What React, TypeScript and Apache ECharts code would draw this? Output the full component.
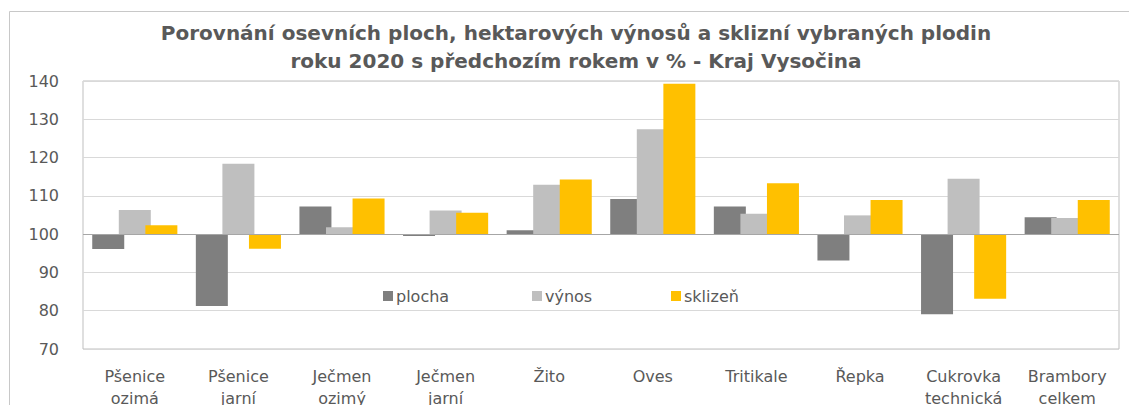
import React, { useEffect, useRef } from "react";
import * as echarts from "echarts";

const categories = [
  "Pšenice\nozimá",
  "Pšenice\njarní",
  "Ječmen\nozimý",
  "Ječmen\njarní",
  "Žito",
  "Oves",
  "Tritikale",
  "Řepka",
  "Cukrovka\ntechnická",
  "Brambory\ncelkem",
];

const plocha = [96.1, 81.2, 107.2, 99.5, 101.0, 109.2, 107.2, 93.1, 79.1, 104.4];
const vynos = [106.3, 118.4, 101.8, 106.2, 112.9, 127.4, 105.3, 104.9, 114.5, 104.2];
const sklizen = [102.3, 96.2, 109.3, 105.6, 114.3, 139.3, 113.3, 108.9, 83.1, 108.9];

const yTicks = { min: 70, max: 140, interval: 10 };
const BASE = 100;

const titleLines = [
  "Porovnání osevních ploch, hektarových výnosů a sklizní vybraných plodin",
  "roku 2020 s předchozím rokem v % - Kraj Vysočina",
];

const FONT = "DejaVu Sans";
const TEXT = "#595959";

export default function App() {
  const ref = useRef<HTMLDivElement>(null);
  useEffect(() => {
    if (!ref.current) return;
    const chart = echarts.init(ref.current, null, { renderer: "svg" });
    const mkSeries = (name: string, vals: number[], color: string, extra: any = {}) => ({
      name,
      type: "bar",
      barWidth: 32,
      barGap: "-17%",
      data: vals.map((v) => +(v - BASE).toFixed(2)),
      itemStyle: { color },
      ...extra,
    });
    chart.setOption({
      animation: false,
      textStyle: { fontFamily: FONT },
      graphic: [
        {
          type: "rect",
          shape: { x: 9.5, y: 11.5, width: 1200, height: 500 },
          style: { fill: "none", stroke: "#c8c8c8", lineWidth: 1 },
          silent: true,
        },
        {
          type: "text",
          x: 576,
          y: 19,
          style: {
            text: titleLines.join("\n"),
            textAlign: "center",
            textVerticalAlign: "top",
            fontFamily: FONT,
            fontSize: 20,
            fontWeight: "bold",
            lineHeight: 28,
            fill: TEXT,
          },
        },
      ],
      legend: [
        { data: ["plocha"], left: 383, top: 288 },
        { data: ["výnos"], left: 532, top: 288 },
        { data: ["sklizeň"], left: 671, top: 288 },
      ].map((l) => ({
        ...l,
        padding: 0,
        icon: "rect",
        itemWidth: 10,
        itemHeight: 10,
        itemGap: 3,
        textStyle: { fontFamily: FONT, fontSize: 16, color: TEXT, padding: [0, 0, 0, -2] },
      })),
      grid: {
        left: 83,
        top: 81,
        right: 10,
        bottom: 56,
        outerBoundsMode: "none",
        containLabel: false,
        show: true,
        borderColor: "#bfbfbf",
        borderWidth: 1,
      },
      xAxis: {
        type: "category",
        data: categories,
        axisLine: { onZero: false, show: false },
        axisTick: { show: false },
        axisLabel: {
          fontFamily: FONT,
          fontSize: 16,
          lineHeight: 22,
          color: TEXT,
          margin: 16,
          interval: 0,
        },
      },
      yAxis: {
        type: "value",
        min: yTicks.min - BASE,
        max: yTicks.max - BASE,
        interval: yTicks.interval,
        axisLine: { show: false },
        axisTick: { show: false },
        axisLabel: {
          fontFamily: FONT,
          fontSize: 16,
          color: TEXT,
          margin: 24,
          formatter: (v: number) => String(Math.round(v + BASE)),
        },
        splitLine: { lineStyle: { color: "#d9d9d9", width: 1 } },
      },
      series: [
        mkSeries("plocha", plocha, "#7f7f7f"),
        mkSeries("výnos", vynos, "#bfbfbf"),
        mkSeries("sklizeň", sklizen, "#ffc000", {
          markLine: {
            silent: true,
            symbol: "none",
            label: { show: false },
            lineStyle: { color: "#a6a6a6", type: "solid", width: 1 },
            data: [{ yAxis: 0 }],
          },
        }),
      ],
    });
    return () => chart.dispose();
  }, []);
  return (
    <div
      ref={ref}
      style={{ position: "absolute", left: 0, top: 0, width: 1129, height: 405 }}
    />
  );
}
